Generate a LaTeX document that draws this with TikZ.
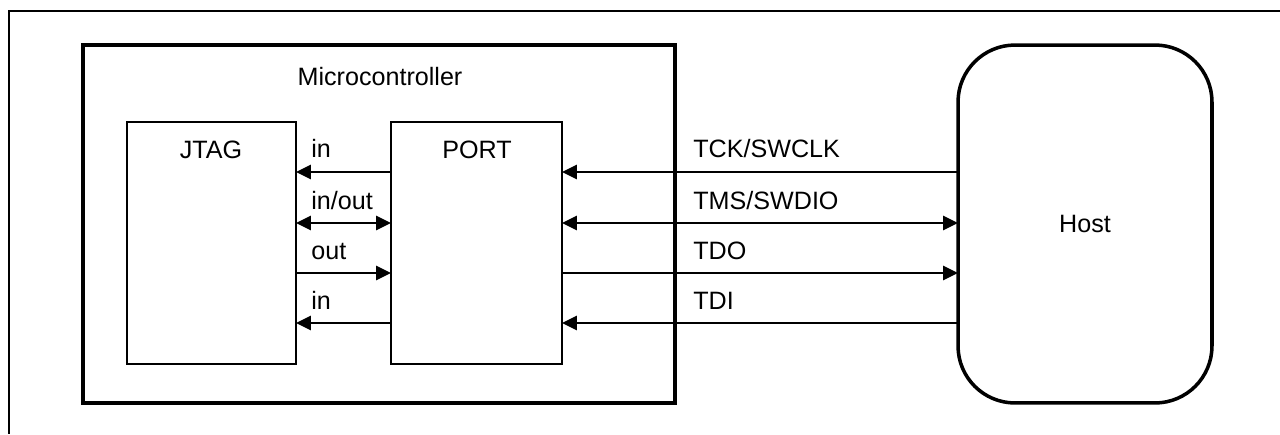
\documentclass[tikz,border=0pt]{standalone}
\usepackage{fontspec}
\setmainfont{Liberation Sans}
\usepackage{tikz}
\usetikzlibrary{arrows.meta, positioning}
\tikzset{
  outerbox/.style={rectangle, draw=black, line width=2.1pt, outer sep=0pt, minimum width=11.84cm, minimum height=7.16cm},
  blockbox/.style={rectangle, draw=black, line width=1.5pt, outer sep=0pt, minimum width=3.4cm, minimum height=4.84cm},
  hostbox/.style={rectangle, rounded corners=1.14cm, draw=black, line width=2pt, outer sep=0pt, minimum width=5.08cm, minimum height=7.16cm, font=\sig},
  sigarrow/.style={line width=1.6pt, color=black},
  tip/.tip={Triangle[length=0.3cm, width=0.28cm]},
  lbl/.style={anchor=base west, inner sep=0pt, font=\sig},
}
\newcommand{\sig}{\fontsize{14.3}{17}\selectfont}

\begin{document}
\begin{tikzpicture}[x=0.02cm, y=-0.02cm]
  \useasboundingbox (0,0) rectangle (1280,434);
  % page frame
  \draw[line width=1.2pt] (1280,11) -- (9,11) -- (9,434);
  % Microcontroller
  \node[outerbox] (mcu) at (379,224) {};
  \node[font=\sig] (mcutitle) at (380,77) {Microcontroller};
  \node[blockbox, minimum width=3.38cm] (jtag) at (211.5,243) {};
  \node[font=\sig] (jtagtitle) at (211,150) {JTAG};
  \node[blockbox, minimum width=3.42cm] (port) at (476.5,243) {};
  \node[font=\sig] (porttitle) at (477,150) {PORT};
  % Host
  \node[hostbox] (host) at (1085,224) {Host};

  % JTAG <-> PORT
  \draw[sigarrow, -tip] (port.west |- 0,172) -- (jtag.east |- 0,172);
  \draw[sigarrow, tip-tip] (jtag.east |- 0,223) -- (port.west |- 0,223);
  \draw[sigarrow, -tip] (jtag.east |- 0,273) -- (port.west |- 0,273);
  \draw[sigarrow, -tip] (port.west |- 0,323) -- (jtag.east |- 0,323);
  \foreach \y/\txt in {157/in, 209/{in/out}, 259/out, 309/in}
    \node[lbl] at (311,\y) {\txt};

  % PORT <-> Host
  \draw[sigarrow, -tip] (host.west |- 0,172) -- (port.east |- 0,172);
  \draw[sigarrow, tip-tip] (port.east |- 0,223) -- (host.west |- 0,223);
  \draw[sigarrow, -tip] (port.east |- 0,273) -- (host.west |- 0,273);
  \draw[sigarrow, -tip] (host.west |- 0,323) -- (port.east |- 0,323);
  \foreach \y/\txt in {157/{TCK/SWCLK}, 209/{TMS/SWDIO}, 259/TDO, 309/TDI}
    \node[lbl] at (693,\y) {\txt};
\end{tikzpicture}
\end{document}
